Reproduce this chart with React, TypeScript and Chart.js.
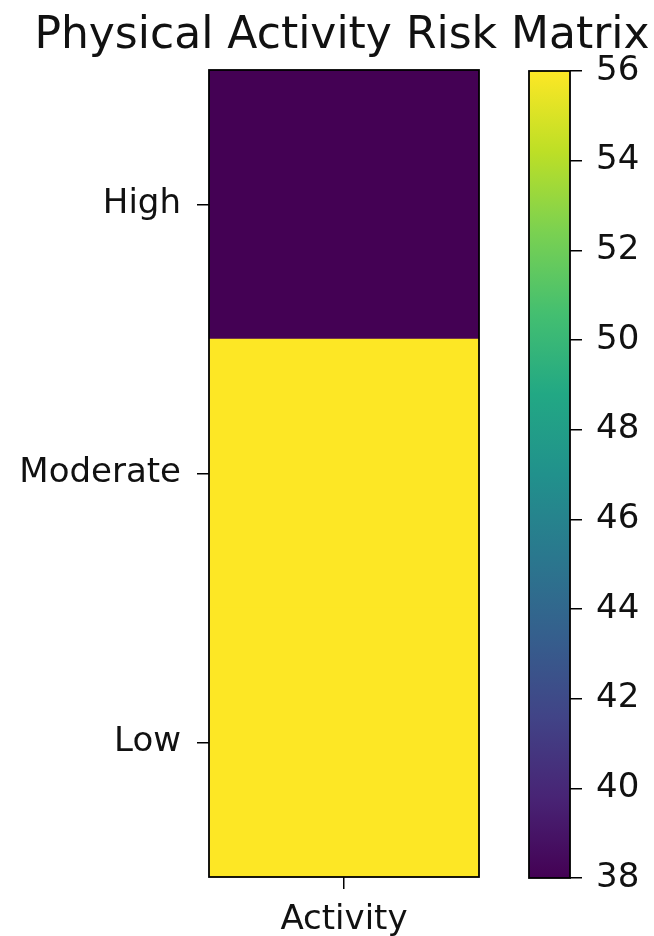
import React, { useEffect, useRef } from "react";
import { Chart, registerables } from "chart.js";

Chart.register(...registerables);

const TITLE = "Physical Activity Risk Matrix";
const rowLabels = ["High", "Moderate", "Low"];
const colLabels = ["Activity"];
const riskValues = [38, 56, 56];
const cbMin = 38;
const cbMax = 56;
const cbStep = 2;

const VIRIDIS = [
  "#440154", "#482475", "#414487", "#355f8d", "#2a788e", "#21918c",
  "#22a884", "#44bf70", "#7ad151", "#bddf26", "#fde725",
];

function hexToRgb(h: string) {
  const n = parseInt(h.slice(1), 16);
  return [(n >> 16) & 255, (n >> 8) & 255, n & 255];
}
function viridis(t: number) {
  const tt = Math.max(0, Math.min(1, t)) * (VIRIDIS.length - 1);
  const i = Math.min(Math.floor(tt), VIRIDIS.length - 2);
  const f = tt - i;
  const a = hexToRgb(VIRIDIS[i]);
  const b = hexToRgb(VIRIDIS[i + 1]);
  const c = a.map((v, k) => Math.round(v + (b[k] - v) * f));
  return `rgb(${c[0]},${c[1]},${c[2]})`;
}

const FONT = "'DejaVu Sans', sans-serif";
const W = 654;
const H = 936;
const TEXT = "#111";

const framePlugin = {
  id: "frame",
  afterDatasetsDraw(chart: any) {
    const { ctx, chartArea: a } = chart;
    ctx.save();
    ctx.strokeStyle = "#000";
    ctx.lineWidth = 1.8;
    ctx.strokeRect(a.left, a.top, a.right - a.left, a.bottom - a.top);
    ctx.restore();
  },
};

const titlePlugin = {
  id: "ctitle",
  afterDraw(chart: any) {
    const { ctx, chartArea: a } = chart;
    ctx.save();
    ctx.font = `44px ${FONT}`;
    ctx.fillStyle = TEXT;
    ctx.textAlign = "center";
    ctx.textBaseline = "alphabetic";
    ctx.fillText(TITLE, (a.left + a.right) / 2 - 2, 48);
    ctx.restore();
  },
};

export default function App() {
  const mainRef = useRef<HTMLCanvasElement>(null);
  const cbRef = useRef<HTMLCanvasElement>(null);

  useEffect(() => {
    const main = new Chart(mainRef.current!, {
      type: "bar",
      data: {
        labels: rowLabels,
        datasets: [
          {
            data: rowLabels.map(() => [0, 1]) as any,
            backgroundColor: riskValues.map((v) => viridis((v - cbMin) / (cbMax - cbMin))),
            borderWidth: 0,
            barPercentage: 1,
            categoryPercentage: 1,
          },
        ],
      },
      options: {
        indexAxis: "y",
        animation: false,
        responsive: false,
        layout: { padding: { left: 0, right: W - 479, top: 70, bottom: 0 } },
        plugins: { legend: { display: false }, tooltip: { enabled: false }, title: { display: false } },
        scales: {
          y: {
            type: "category",
            grid: { offset: false, drawOnChartArea: false, tickLength: 12, color: "#000", lineWidth: 1.5 },
            border: { display: false },
            ticks: { color: TEXT, font: { family: FONT, size: 34 }, padding: 16 },
            afterFit: (s: any) => { s.width = 209; },
          },
          x: {
            type: "linear",
            min: 0,
            max: 1,
            grid: { drawOnChartArea: false, tickLength: 12, color: "#000", lineWidth: 1.5 },
            border: { display: false },
            afterBuildTicks: (s: any) => {
              s.ticks = colLabels.map((_, i) => ({ value: (i + 0.5) / colLabels.length }));
            },
            ticks: {
              color: TEXT,
              font: { family: FONT, size: 34 },
              padding: 11,
              autoSkip: false,
              maxRotation: 0,
              callback: (_v: any, i: number) => colLabels[i],
            },
            afterFit: (s: any) => { s.height = H - 877; },
          },
        },
      } as any,
      plugins: [framePlugin, titlePlugin],
    });

    const cb = new Chart(cbRef.current!, {
      type: "bar",
      data: {
        labels: [""],
        datasets: [
          {
            data: [[cbMin, cbMax]] as any,
            backgroundColor: (c: any) => {
              const ch = c.chart;
              const y = ch.scales.y;
              if (!y || !ch.chartArea) return "#fde725";
              const g = ch.ctx.createLinearGradient(0, y.getPixelForValue(cbMin), 0, y.getPixelForValue(cbMax));
              VIRIDIS.forEach((col, i) => g.addColorStop(i / (VIRIDIS.length - 1), col));
              return g;
            },
            borderWidth: 0,
            barPercentage: 1,
            categoryPercentage: 1,
          },
        ],
      },
      options: {
        animation: false,
        responsive: false,
        layout: { padding: { left: 29, right: 0, top: 71, bottom: H - 878 } },
        plugins: { legend: { display: false }, tooltip: { enabled: false } },
        scales: {
          x: { display: false },
          y: {
            type: "linear",
            position: "right",
            min: cbMin,
            max: cbMax,
            grid: { drawOnChartArea: false, tickLength: 12, color: "#000", lineWidth: 1.5 },
            border: { display: false },
            ticks: { stepSize: cbStep, color: TEXT, font: { family: FONT, size: 34 }, padding: 14 },
            afterFit: (s: any) => { s.width = 154 - 70; },
          },
        },
      } as any,
      plugins: [framePlugin],
    });

    return () => {
      main.destroy();
      cb.destroy();
    };
  }, []);

  return (
    <div style={{ position: "absolute", left: 0, top: 0, width: W, height: H, background: "#fff" }}>
      <canvas ref={mainRef} width={W} height={H} style={{ position: "absolute", left: 0, top: 0, width: W, height: H }} />
      <canvas ref={cbRef} width={154} height={H} style={{ position: "absolute", left: 500, top: 0, width: 154, height: H }} />
    </div>
  );
}
